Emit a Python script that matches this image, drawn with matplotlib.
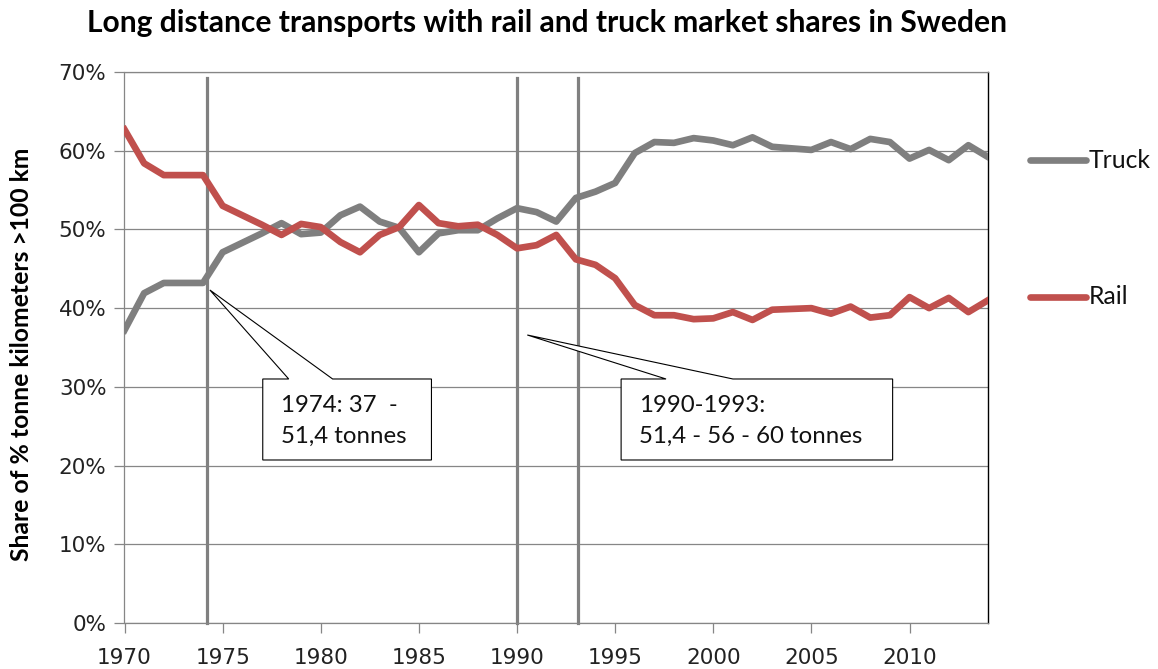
import matplotlib
matplotlib.use('Agg')
import matplotlib.pyplot as plt
import matplotlib.ticker as mticker
from matplotlib.lines import Line2D
from matplotlib.patches import Polygon

# market shares, % of tonne km > 100 km
years = list(range(1970, 2015))
truck = [37.2, 41.9, 43.2, 43.2, 43.2, 47.1, 48.3, 49.5, 50.8, 49.4,
         49.6, 51.8, 52.9, 51.0, 50.2, 47.1, 49.5, 49.9, 49.9, 51.4,
         52.7, 52.2, 51.0, 54.0, 54.8, 55.9, 59.7, 61.1, 61.0, 61.6,
         61.3, 60.7, 61.7, 60.5, 60.3, 60.1, 61.1, 60.2, 61.5, 61.1,
         59.0, 60.1, 58.8, 60.7, 59.2]
rail = [62.7, 58.4, 56.9, 56.9, 56.9, 53.0, 51.8, 50.6, 49.3, 50.7,
        50.3, 48.4, 47.1, 49.3, 50.3, 53.1, 50.8, 50.4, 50.6, 49.3,
        47.6, 48.0, 49.3, 46.2, 45.5, 43.8, 40.4, 39.1, 39.1, 38.6,
        38.7, 39.5, 38.5, 39.8, 39.9, 40.0, 39.3, 40.2, 38.8, 39.1,
        41.4, 40.0, 41.3, 39.5, 41.0]
limit_changes = [1974.2, 1990.0, 1993.1]
note1 = '1974: 37  -\n51,4 tonnes'
note2 = '1990-1993:\n51,4 - 56 - 60 tonnes'

GREY = '#7f7f7f'
RED = '#c0504d'
AXC = '#868686'

W, H = 1158, 669
fig = plt.figure(figsize=(W / 100, H / 100), dpi=100)
ax = fig.add_axes([124.5 / W, 1 - 623 / H, (988 - 124.5) / W, (623 - 72) / H])

def px(x, y):
    # pixel position in the picture -> data coords
    return 1970 + (x - 124.5) / 19.66, (623 - y) / 7.871

ax.set_xlim(1970, 2014)
ax.set_ylim(0, 70)
ax.yaxis.set_major_locator(mticker.MultipleLocator(10))
ax.yaxis.set_major_formatter(mticker.FuncFormatter(lambda v, p: f'{v:.0f}%'))
ax.xaxis.set_major_locator(mticker.FixedLocator(range(1970, 2011, 5)))
ax.grid(axis='y', color=AXC, lw=0.9)
ax.set_axisbelow(True)
for s in ['left', 'bottom', 'top']:
    ax.spines[s].set_color(AXC)
    ax.spines[s].set_linewidth(0.9)
ax.spines['right'].set_color('black')
ax.spines['right'].set_linewidth(1.0)
ax.tick_params(axis='both', colors=AXC, length=7, width=0.9, labelcolor='#222222',
               labelsize=15.5, pad=6)
ax.tick_params(axis='x', pad=11)
for lab in ax.get_xticklabels() + ax.get_yticklabels():
    lab.set_family('DejaVu Sans')

for x in limit_changes:
    ax.plot([x, x], [0, 69.3], color='#808080', lw=2.3, zorder=2, clip_on=False)

ax.plot(years, truck, color=GREY, lw=4.8, solid_joinstyle='round', zorder=3)
ax.plot(years, rail, color=RED, lw=4.8, solid_joinstyle='round', zorder=3)

# callouts
def callout(box, base, tip, text):
    l, t, r, b = box
    pts = [(l, t), (base[0], t), tip, (base[1], t), (r, t), (r, b), (l, b)]
    ax.add_patch(Polygon([px(*p) for p in pts], closed=True, fc='white',
                         ec='black', lw=0.8, zorder=4))
    tx, ty = px(l + 18, t + 16)
    ax.text(tx, ty, text, family='Lato', fontsize=17.3, va='top', ha='left',
            linespacing=1.6, zorder=5, color='#111111')

callout((263, 379, 432, 460), (289, 333), (210, 290), note1)
callout((622, 379, 894, 460), (667, 734), (528, 335), note2)

# legend on the right
for y, c, name in [(160, GREY, 'Truck'), (297, RED, 'Rail')]:
    fig.add_artist(Line2D([1030 / W, 1086 / W], [1 - y / H, 1 - y / H], color=c,
                          lw=4.8, solid_capstyle='round'))
    fig.text(1089 / W, 1 - y / H, name, family='Lato', fontsize=17.8, va='center',
             ha='left', color='#111111')

fig.text(547 / W, 1 - 23 / H, 'Long distance transports with rail and truck market shares in Sweden',
         family='Lato', fontweight='bold', fontsize=21.6, ha='center', va='center')
fig.text(22 / W, 1 - 354 / H, 'Share of % tonne kilometers >100 km', family='Lato',
         fontweight='bold', fontsize=17.8, rotation=90, ha='center', va='center')

fig.savefig('out.png', dpi=100)
